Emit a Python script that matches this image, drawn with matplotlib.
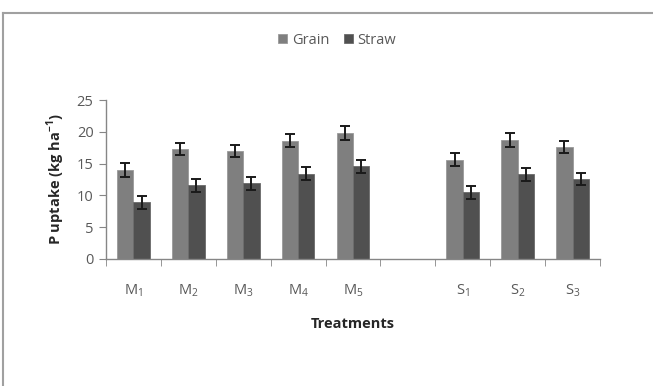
import numpy as np
import matplotlib.pyplot as plt
from matplotlib.lines import Line2D

plt.rcParams['font.family'] = ['Open Sans', 'DejaVu Sans']
plt.rcParams['mathtext.fontset'] = 'custom'
plt.rcParams['mathtext.rm'] = 'Open Sans'
plt.rcParams['mathtext.bf'] = 'Open Sans:bold'

# P uptake per treatment (blank slot separates the M and S groups)
treatments = ['M$_1$', 'M$_2$', 'M$_3$', 'M$_4$', 'M$_5$', '', 'S$_1$', 'S$_2$', 'S$_3$']
grain = [14.0, 17.3, 17.0, 18.6, 19.8, np.nan, 15.6, 18.7, 17.6]
straw = [8.9, 11.6, 11.9, 13.4, 14.6, np.nan, 10.5, 13.3, 12.6]
grain_err = [1.1, 1.0, 1.0, 1.0, 1.1, 0, 1.0, 1.1, 1.0]
straw_err = [1.0, 1.0, 1.0, 1.0, 1.0, 0, 1.0, 1.0, 1.0]

grey_txt = '#595959'
axis_col = '#868686'

fig = plt.figure(figsize=(6.53, 3.86), dpi=100)
ax = fig.add_axes([106 / 653, 1 - 259 / 386, 494 / 653, 159 / 386])

x = np.arange(len(treatments))
w = 0.297
ax.bar(x - w / 2, grain, w, color='#7f7f7f', edgecolor='#9a9a9a', lw=0.6, label='Grain',
       yerr=grain_err, error_kw=dict(ecolor='#1a1a1a', elinewidth=1.4, capsize=3.5, capthick=1.4))
ax.bar(x + w / 2, straw, w, color='#505050', edgecolor='#6a6a6a', lw=0.6, label='Straw',
       yerr=straw_err, error_kw=dict(ecolor='#1a1a1a', elinewidth=1.4, capsize=3.5, capthick=1.4))

ax.set_xlim(-0.5, len(treatments) - 0.5)
ax.set_ylim(0, 25)
ax.set_yticks(np.arange(0, 26, 5))
ax.set_xticks(x)
ax.set_xticklabels(treatments)
ax.set_xticks(np.arange(-0.5, len(treatments), 1), minor=True)
ax.tick_params(axis='x', which='major', length=0, pad=17, labelsize=10.5, labelcolor=grey_txt)
ax.tick_params(axis='x', which='minor', length=5, color=axis_col, direction='out')
ax.tick_params(axis='y', length=5, color=axis_col, labelsize=10.5, labelcolor=grey_txt, pad=4)

for s in ['top', 'right']:
    ax.spines[s].set_visible(False)
for s in ['left', 'bottom']:
    ax.spines[s].set_color(axis_col)
    ax.spines[s].set_linewidth(1.0)

ax.set_ylabel(r'P uptake (kg ha$^{\mathbf{-1}}$)', fontsize=10.5, fontweight='bold',
              color='#262626', labelpad=7)
ax.set_xlabel('Treatments', fontsize=10.5, fontweight='bold', color='#262626', labelpad=13)

fig.legend(loc='center', bbox_to_anchor=(337 / 653, 1 - 40 / 386), ncol=2, frameon=False,
           fontsize=10.5, labelcolor=grey_txt, handlelength=0.65, handleheight=0.65,
           handletextpad=0.3, columnspacing=1.0)

# outer frame (top and left edges)
fig.add_artist(Line2D([3 / 653, 1], [1 - 13 / 386, 1 - 13 / 386], color='#a0a0a0', lw=1.5))
fig.add_artist(Line2D([3 / 653, 3 / 653], [0, 1 - 13 / 386], color='#a0a0a0', lw=1.5))

fig.savefig('out.png', dpi=100)
